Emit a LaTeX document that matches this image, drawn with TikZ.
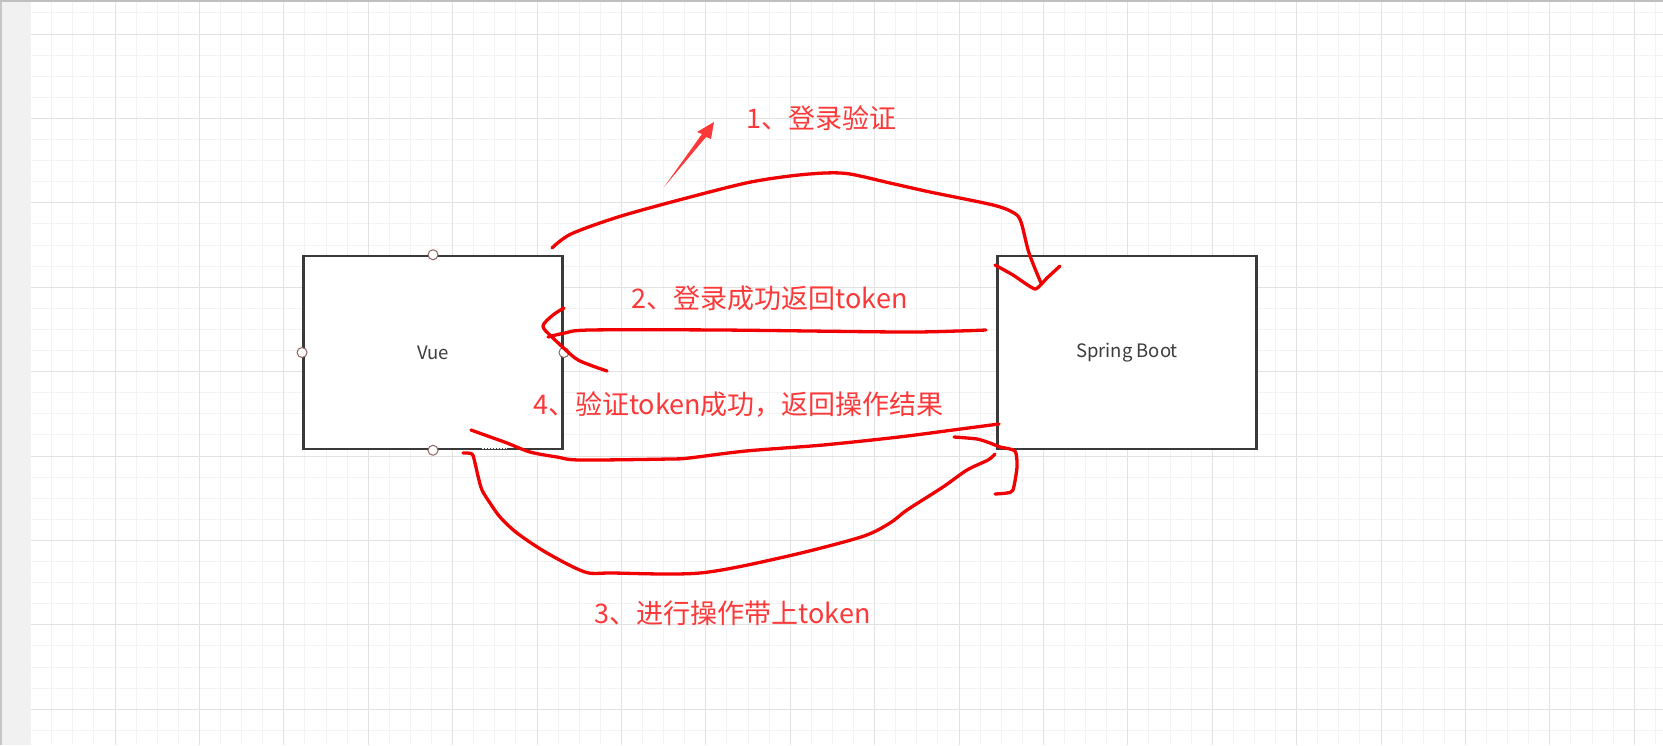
\documentclass[tikz,border=0pt]{standalone}
\usepackage{fontspec}
\newfontfamily\cjk{Noto Sans CJK SC}
\definecolor{pen}{RGB}{240,0,0}
\definecolor{anno}{RGB}{252,56,56}
\definecolor{gminorc}{RGB}{243,243,243}
\definecolor{gmajorc}{RGB}{226,226,226}
\definecolor{boxline}{RGB}{58,58,58}
\definecolor{boxtext}{RGB}{60,60,60}
\definecolor{portc}{RGB}{140,100,100}
\definecolor{stripc}{RGB}{241,241,241}
\tikzset{
  gminor/.style={draw=gminorc, line width=1pt},
  gmajor/.style={draw=gmajorc, line width=1pt},
  sysbox/.style={draw=boxline, fill=white, line width=2.5pt, minimum width=259.4pt, minimum height=193pt, inner sep=0pt, text=boxtext, font=\cjk\fontsize{18.5}{22}\selectfont},
  port/.style={circle, draw=portc, fill=white, line width=1pt, minimum size=10pt, inner sep=0pt},
  annotext/.style={text=anno, inner sep=0pt, font=\cjk\fontsize{27}{32}\selectfont},
  scribble/.style={draw=pen, line width=3.3pt, line cap=round, line join=round}
}
\begin{document}
\begin{tikzpicture}[x=1pt,y=-1pt]
\useasboundingbox (0,0) rectangle (1663,745);
\fill[white] (0,0) rectangle (1663,745);
% grid
\foreach \i in {0,...,77} \draw[gminor] ({30.6+21.1*\i},0) -- ({30.6+21.1*\i},745);
\foreach \i in {0,...,34} \draw[gminor] (31,{12.9+21.1*\i}) -- (1663,{12.9+21.1*\i});
\foreach \i in {0,...,19} \draw[gmajor] ({30.6+84.4*\i},0) -- ({30.6+84.4*\i},745);
\foreach \i in {0,...,8} \draw[gmajor] (31,{34+84.4*\i}) -- (1663,{34+84.4*\i});
% left strip and top edge
\fill[stripc] (0,0) rectangle (31,745);
\fill[black!22] (0,0) rectangle (2,745);
\fill[black!25] (0,0) rectangle (1663,1.6);
% boxes
\node[sysbox] (vue) at (433,352.5) {Vue};
\node[sysbox] (spring) at (1127,352.5) {Spring Boot};
\draw[white, line width=1pt, dash pattern=on 1.5pt off 1.5pt] (482,448.5) -- (507,448.5);
\foreach \a in {north,south,east,west} \node[port] (vue-\a) at (vue.\a) {};
% annotation texts
\node[annotext] (t1) at (821,118) {1、登录验证};
\node[annotext] (t2) at (769.5,298) {2、登录成功返回token};
\node[annotext] (t4) at (738.5,405) {4、验证token成功，返回操作结果};
\node[annotext] (t3) at (732.5,613) {3、进行操作带上token};
% tapered arrow
\fill[anno] (664,187) -- (706,137) -- (711,139) -- (714,122) -- (697,132) -- (702,134) -- cycle;
% 1: login
\draw[scribble] plot[smooth, tension=0.5] coordinates {(552,248) (571,234) (618,217) (679,200) (746,183) (790,176) (825,173) (850,174) (890,183) (930,192) (993,205) (1014,213) (1021,222) (1029,253) (1041,283)};
\draw[scribble] plot[smooth, tension=0.3] coordinates {(995,265) (1013,275) (1035,289) (1047,278) (1060,266)};
% 2: token back
\draw[scribble] plot[smooth, tension=0.5] coordinates {(986,330) (958,331) (900,332) (720,330) (590,330) (565,333) (548,337)};
\draw[scribble] plot[smooth, tension=0.5] coordinates {(564,308) (553,315) (543,326) (552,337) (575,358) (590,365) (607,371)};
% 4: result back
\draw[scribble] plot[smooth, tension=0.5] coordinates {(999,424) (953,430) (899,437) (823,445) (746,451) (689,458) (670,459) (580,460) (557,457) (530,452) (507,443) (482,434) (471,430)};
% 3: operation with token
\draw[scribble] plot[smooth, tension=0.5] coordinates {(463,453) (472,454) (475,463) (478,476) (482,490) (490,503) (500,517) (517,533) (547,553) (585,572) (612,573) (700,573) (784,557) (861,537) (890,523) (907,510) (943,487) (967,470) (988,460) (995,454)};
\draw[scribble] plot[smooth, tension=0.4] coordinates {(954,437) (977,439) (990,443) (1000,447) (1015,451) (1017,467) (1013,490) (1007,493) (995,494)};
\end{tikzpicture}
\end{document}
